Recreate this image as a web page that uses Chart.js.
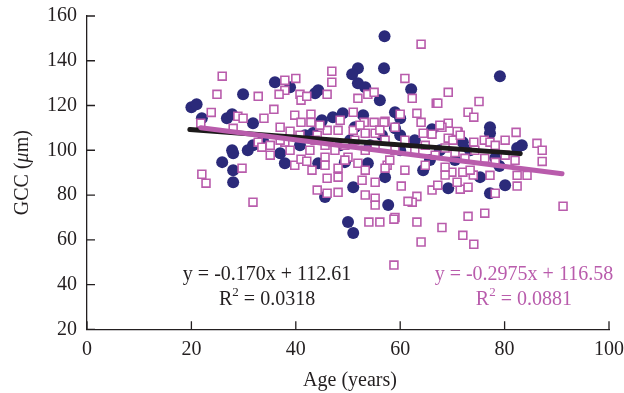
<!DOCTYPE html>
<html>
<head>
<meta charset="utf-8">
<script src="https://cdn.jsdelivr.net/npm/chart.js@4.4.1/dist/chart.umd.min.js"></script>
<style>
  html, body { margin: 0; padding: 0; background: #fff; }
  #wrap { width: 624px; height: 393px; }
</style>
</head>
<body>
<div id="wrap"><canvas id="gccChart"></canvas></div>
<script>
// group 1 (filled navy circles)
const ageA = [20, 21, 22, 26.8, 27.8, 29.9, 31.8, 36, 38.9, 27.8, 31.8, 57, 51.9, 50.8, 56.9, 51.9, 53.3, 56.1, 62.1, 43.7,
  44.3, 47.1, 49, 52.9, 59, 44.8, 51.3, 60, 66.1, 56.5, 25.9, 28, 28, 28, 37, 37.9, 44.3, 45.6, 50, 51,
  51, 57.7, 53.8, 57.1, 49.4, 64.4, 69.2, 75.3, 77.2, 80.1, 78.2, 79.1, 77.2, 77.2, 83.3, 82.4, 72, 62.8, 67.6, 73.4,
  70.5, 60, 65.7, 54.2, 50.4, 48.5, 59, 41.8, 40.8, 33.7, 30.8, 79, 43.3, 45, 60];
const gccA = [119.2, 120.6, 114.3, 114.3, 116.1, 125, 112.1, 130.4, 128.2, 100, 102.2, 151, 136.6, 134, 136.6, 130, 128.2, 122.4, 127.3, 125.5,
  126.8, 114.8, 116.5, 115.7, 117, 112.5, 110.3, 106.7, 109.4, 106.7, 94.7, 98.7, 91.1, 85.7, 98.7, 94.2, 94.2, 79.1, 67.9, 63,
  83.5, 75.5, 94.2, 88, 94.7, 91.1, 83, 88, 80.8, 84.4, 96.5, 133.1, 110.3, 107.6, 102.2, 101, 103.6, 104.5, 100, 100,
  95.6, 100, 95.6, 102.2, 104.5, 102.2, 109.8, 106.7, 102.2, 104.5, 100, 93, 107.7, 113.4, 114.3];

// group 2 (open pink squares)
const ageB = [25.9, 24.9, 32.8, 23.8, 21.8, 28.9, 29.9, 33.9, 35.8, 37, 37.9, 37.9, 40, 36.8, 40.8, 41, 42.1, 39.8, 41, 38.9,
  28, 32.8, 33.5, 35.1, 37.9, 64, 46.9, 46.9, 60.9, 46, 51.9, 53.8, 55, 62.3, 66.9, 42.9, 42.9, 51, 53.1, 55,
  57.1, 60, 59, 63.2, 64, 46, 48.1, 51, 53.3, 55.2, 64.4, 66.1, 44.1, 69.2, 67.2, 75.1, 73, 74.1, 69.2, 68,
  71.1, 82.2, 86.2, 87.2, 80.1, 76.1, 74.1, 69.2, 70.1, 77.2, 78.2, 91.2, 82.4, 78.2, 76.2, 73, 63.2, 62.3, 60.2, 59,
  66.1, 71.5, 73, 70.9, 77.2, 82.4, 84.3, 56.9, 70.9, 87.2, 68, 72, 74.1, 72, 69.9, 67.2, 68.6, 74, 43.1, 44.1,
  46, 46, 48.1, 48.1, 48.1, 53.3, 55.2, 55.2, 54, 56.1, 58.8, 63.2, 64, 58.8, 61.5, 55.2, 57.5, 51.9, 50, 45.6,
  52.7, 22, 22.8, 29.7, 31.8, 39.8, 41, 42.1, 43.7, 45.6, 47.5, 49.4, 51.3, 53.3, 55.2, 57.1, 59, 60.9, 62.8, 64.8,
  66.7, 68.6, 70.5, 72.4, 74.3, 76.2, 78.2, 80.1, 82, 45.6, 49.4, 53.3, 57.1, 60.9, 64.8, 68.6, 42.7, 40.8, 38.9, 37,
  35.1, 44.6, 48.5, 52.3, 56.1, 67.6, 71.5, 58, 73.4];
const gccB = [133.1, 125, 124.1, 116.9, 112.1, 115.2, 114.3, 114.3, 118.3, 110.3, 131.3, 126.8, 132.1, 125, 125, 122.4, 124.1, 115.7, 112.5, 108.5,
  109.8, 103.6, 101.4, 102.2, 103.6, 147.4, 135.3, 130.4, 132.1, 125, 123.2, 125, 125.9, 123.2, 121, 116.1, 112.5, 117, 112.5, 112.5,
  113, 116.1, 110.3, 116.5, 112.5, 108.9, 108.9, 108.9, 107.6, 107.6, 107.6, 107.2, 106.7, 125.9, 121, 121.8, 117, 114.8, 112.1, 110.3,
  108, 108, 103.1, 100, 104.5, 104.5, 103.6, 105.4, 104.5, 103.6, 102.2, 75, 84, 80.8, 71.9, 70.5, 79.4, 76.8, 84, 70,
  82.2, 82.6, 83.5, 85.7, 88.8, 88.8, 88.8, 112.5, 108.4, 95, 65.5, 62, 58, 90.2, 90.2, 84.4, 92.4, 88.9, 91.1, 82.2,
  80.8, 87.5, 81.2, 92, 88, 80, 78.6, 75.5, 67.9, 67.9, 69.2, 67.9, 59, 48.7, 77.2, 85.7, 93.3, 94.2, 96.9, 96.9,
  86.6, 89.3, 85.3, 92, 76.8, 93.3, 96, 95.1, 104.5, 102.2, 100, 102.2, 104.5, 100, 102.2, 104.5, 100, 104.5, 100, 102.2,
  97.8, 101, 99, 96.4, 100, 96.4, 94.6, 97.8, 95.5, 93.3, 95.6, 91.1, 92, 91.1, 93.3, 88.9, 100, 106.7, 100, 104.5,
  97.8, 111.2, 113.4, 111.2, 109, 111.2, 106.7, 95.6, 91.1];

// trend line end points (age, GCC) as drawn
const fitAge1 = [19.7, 83];
const fitGcc1 = [109.3, 98.5];
const fitAge2 = [21.8, 91];
const fitGcc2 = [110.1, 89.5];

const xTicks = [0, 20, 40, 60, 80, 100];
const yTicks = [20, 40, 60, 80, 100, 120, 140, 160];

const navy = '#2b2a7a';
const pink = '#b95cac';
const ink = '#231f20';
const serif = "'Liberation Serif', 'DejaVu Serif', serif";

const toPts = (xs, ys) => xs.map((x, i) => ({ x: x, y: ys[i] }));

// inward tick marks, axis titles and the fit equations
const extras = {
  id: 'extras',
  afterDraw(chart) {
    const ctx = chart.ctx;
    const xs = chart.scales.x, ys = chart.scales.y;
    const area = chart.chartArea;
    ctx.save();
    ctx.strokeStyle = ink;
    ctx.lineWidth = 1.3;
    ctx.beginPath();
    xTicks.forEach(v => {
      const px = xs.getPixelForValue(v);
      ctx.moveTo(px, area.bottom); ctx.lineTo(px, area.bottom - 8);
    });
    yTicks.forEach(v => {
      const py = ys.getPixelForValue(v);
      ctx.moveTo(area.left, py); ctx.lineTo(area.left + 8, py);
    });
    ctx.stroke();

    ctx.fillStyle = ink;
    ctx.textBaseline = 'middle';
    ctx.textAlign = 'center';
    ctx.font = '20px ' + serif;
    ctx.fillText('Age (years)', (area.left + area.right) / 2 + 2, 381);

    // y title with italic mu
    ctx.save();
    ctx.translate(23, (area.top + area.bottom) / 2);
    ctx.rotate(-Math.PI / 2);
    const parts = [['GCC (', '20px '], ['\u03bc', 'italic 20px '], ['m)', '20px ']];
    let total = 0;
    parts.forEach(p => { ctx.font = p[1] + serif; total += ctx.measureText(p[0]).width; });
    let cx = -total / 2;
    ctx.textAlign = 'left';
    parts.forEach(p => {
      ctx.font = p[1] + serif;
      ctx.fillText(p[0], cx, 0);
      cx += ctx.measureText(p[0]).width;
    });
    ctx.restore();

    const eq = (text, r2, color, xv, yv) => {
      const px = xs.getPixelForValue(xv), py = ys.getPixelForValue(yv);
      ctx.fillStyle = color;
      ctx.textAlign = 'center';
      ctx.font = '20px ' + serif;
      ctx.fillText(text, px, py);
      ctx.font = '20px ' + serif;
      const wR = ctx.measureText('R').width;
      const rest = ' = ' + r2;
      const wRest = ctx.measureText(rest).width;
      ctx.font = '13px ' + serif;
      const w2 = ctx.measureText('2').width;
      let sx = px - (wR + w2 + wRest) / 2;
      const ry = py + 25;
      ctx.textAlign = 'left';
      ctx.font = '20px ' + serif;
      ctx.fillText('R', sx, ry);
      ctx.font = '13px ' + serif;
      ctx.fillText('2', sx + wR, ry - 8);
      ctx.font = '20px ' + serif;
      ctx.fillText(rest, sx + wR + w2, ry);
    };
    eq('y = -0.170x + 112.61', '0.0318', ink, 34.5, 44.2);
    eq('y = -0.2975x + 116.58', '0.0881', pink, 83.7, 44.2);
    ctx.restore();
  }
};

new Chart(document.getElementById('gccChart').getContext('2d'), {
  type: 'scatter',
  data: {
    datasets: [
      {
        type: 'line', label: 'fit 2', data: toPts(fitAge2, fitGcc2),
        borderColor: pink, borderWidth: 5, pointRadius: 0, borderCapStyle: 'round', order: 0
      },
      {
        type: 'line', label: 'fit 1', data: toPts(fitAge1, fitGcc1),
        borderColor: '#1c1a1a', borderWidth: 5, pointRadius: 0, borderCapStyle: 'round', order: 1
      },
      {
        label: 'group 2', data: toPts(ageB, gccB),
        pointStyle: 'rect', pointRadius: 5.6, borderWidth: 1.6,
        borderColor: pink, backgroundColor: '#ffffff', order: 2
      },
      {
        label: 'group 1', data: toPts(ageA, gccA),
        pointStyle: 'circle', pointRadius: 6, borderWidth: 0,
        backgroundColor: navy, borderColor: navy, order: 3
      }
    ]
  },
  options: {
    responsive: true,
    maintainAspectRatio: false,
    animation: false,
    layout: { padding: { top: 16, right: 15, left: 0, bottom: 0 } },
    plugins: { legend: { display: false }, tooltip: { enabled: false } },
    scales: {
      x: {
        type: 'linear', min: 0, max: 100,
        afterBuildTicks: s => { s.ticks = xTicks.map(v => ({ value: v })); },
        afterFit: s => { s.height = 63.7; s.paddingLeft = 0; s.paddingRight = 0; },
        grid: { display: false, drawTicks: false },
        border: { display: true, color: ink, width: 1.3 },
        ticks: { color: ink, padding: 8, maxRotation: 0, font: { family: serif, size: 20 } }
      },
      y: {
        type: 'linear', min: 20, max: 160,
        afterBuildTicks: s => { s.ticks = yTicks.map(v => ({ value: v })); },
        afterFit: s => { s.width = 87; s.paddingTop = 0; s.paddingBottom = 0; },
        grid: { display: false, drawTicks: false },
        border: { display: true, color: ink, width: 1.3 },
        ticks: { color: ink, padding: 10, font: { family: serif, size: 20 } }
      }
    }
  },
  plugins: [extras]
});
</script>
</body>
</html>
